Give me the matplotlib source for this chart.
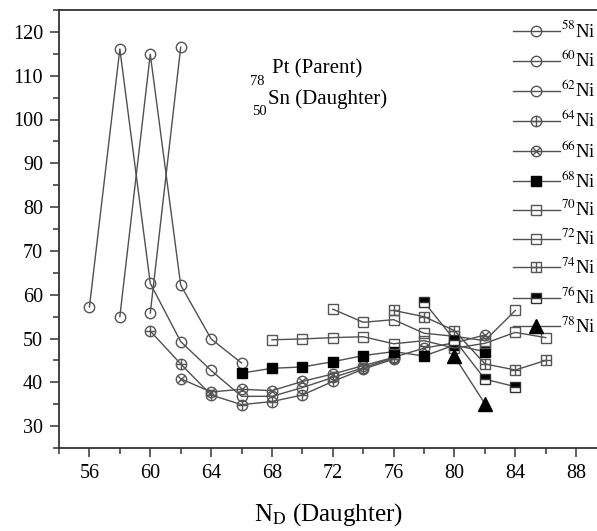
import matplotlib
matplotlib.use('Agg')
import matplotlib.pyplot as plt
from matplotlib.path import Path
from matplotlib.ticker import MultipleLocator

plt.rcParams['font.family'] = ['Liberation Serif', 'DejaVu Serif']
plt.rcParams['mathtext.fontset'] = 'stix'

# ---------------- data ----------------
ni58_x = [56, 58, 60, 62, 64, 66, 68, 70, 72, 74, 76]
ni58_y = [57.2, 116.1, 62.6, 49.3, 42.7, 36.8, 36.8, 38.8, 41.1, 43.3, 45.6]
ni60_x = [58, 60, 62, 64, 66]
ni60_y = [55.0, 114.9, 62.2, 49.9, 44.4]
ni62_x = [60, 62]
ni62_y = [55.8, 116.5]
ni64_x = [60, 62, 64, 66, 68, 70, 72, 74, 76]
ni64_y = [51.7, 44.2, 37.1, 34.9, 35.6, 37.1, 40.2, 43.0, 45.3]
ni66_x = [62, 64, 66, 68, 70, 72, 74, 76, 78, 80, 82]
ni66_y = [40.8, 37.8, 38.4, 38.1, 40.2, 41.9, 43.8, 45.7, 47.8, 49.0, 50.8]
ni68_x = [66, 68, 70, 72, 74, 76, 78, 80, 82]
ni68_y = [42.1, 43.2, 43.5, 44.7, 46.1, 47.0, 46.0, 48.5, 47.0]
ni70_x = [68, 70, 72, 74, 76, 78, 80, 82, 84, 86]
ni70_y = [49.7, 49.9, 50.2, 50.4, 48.8, 49.5, 47.8, 48.9, 51.4, 50.2]
ni72_x = [72, 74, 76, 78, 80, 82, 84]
ni72_y = [56.7, 53.7, 54.3, 51.2, 50.5, 49.5, 56.4]
ni74_x = [76, 78, 80, 82, 84, 86]
ni74_y = [56.4, 55.0, 51.8, 44.2, 42.8, 45.0]
ni76_x = [78, 80, 82, 84]
ni76_y = [58.3, 49.7, 40.7, 39.0]
ni78_x = [80, 82]
ni78_y = [45.9, 35.1]

labels = ['58', '60', '62', '64', '66', '68', '70', '72', '74', '76', '78']
x_ticks = [56, 60, 64, 68, 72, 76, 80, 84, 88]
y_ticks = [30, 40, 50, 60, 70, 80, 90, 100, 110, 120]

# ---------------- custom markers ----------------
M, L = Path.MOVETO, Path.LINETO
circ = Path.unit_circle()
plus = Path([[-1, 0], [1, 0], [0, -1], [0, 1]], [M, L, M, L])
d = 0.6
cross = Path([[-d, -d], [d, d], [-d, d], [d, -d]], [M, L, M, L])
square = Path([[-1, -1], [1, -1], [1, 1], [-1, 1], [-1, -1]], [M, L, L, L, Path.CLOSEPOLY])
oplus = Path.make_compound_path(circ, plus)
otimes = Path.make_compound_path(circ, cross)
boxplus = Path.make_compound_path(square, plus)

gray = '#555555'
lc = '#505050'

fig = plt.figure(figsize=(5.97, 5.31), dpi=100)
ax = fig.add_axes([59 / 597, 83 / 531, 540 / 597, 438 / 531])

common = dict(color=lc, lw=1.0)
open_kw = dict(mfc='none', mec=gray, mew=1.0)

series = [
    (ni58_x, ni58_y, dict(marker='o', ms=7.5, **open_kw)),
    (ni60_x, ni60_y, dict(marker='o', ms=7.5, **open_kw)),
    (ni62_x, ni62_y, dict(marker='o', ms=7.5, **open_kw)),
    (ni64_x, ni64_y, dict(marker=oplus, ms=7.5, **open_kw)),
    (ni66_x, ni66_y, dict(marker=otimes, ms=7.5, **open_kw)),
    (ni68_x, ni68_y, dict(marker='s', ms=7, mfc='black', mec='black', mew=1.0)),
    (ni70_x, ni70_y, dict(marker='s', ms=7, **open_kw)),
    (ni72_x, ni72_y, dict(marker='s', ms=7, **open_kw)),
    (ni74_x, ni74_y, dict(marker=boxplus, ms=7, **open_kw)),
    (ni76_x, ni76_y, dict(marker='s', ms=7, fillstyle='top', mfc='black',
                          mfcalt='white', mec='#333333', mew=1.0)),
    (ni78_x, ni78_y, dict(marker='^', ms=9.5, mfc='black', mec='black')),
]

for (xs, ys, kw), lab in zip(series, labels):
    ax.plot(xs, ys, label=r'$^{%s}$Ni' % lab, **common, **kw)

ax.set_xlim(54, 89.5)
ax.set_ylim(25, 125)
ax.set_xticks(x_ticks)
ax.set_yticks(y_ticks)
ax.xaxis.set_minor_locator(MultipleLocator(2))
ax.yaxis.set_minor_locator(MultipleLocator(5))
ax.tick_params(which='major', direction='out', length=6.5, width=1.1,
               labelsize=14.5, top=False, right=False, pad=5, color='#333333')
ax.tick_params(which='minor', direction='out', length=4, width=1.1,
               top=False, right=False, color='#333333')
for s in ax.spines.values():
    s.set_linewidth(1.3)
    s.set_color('#333333')

ax.set_xlabel(r'N$_{\mathrm{D}}$ (Daughter)', fontsize=18, labelpad=13)

leg = ax.legend(loc='upper left', bbox_to_anchor=(0.8407, 0.977),
                frameon=False, fontsize=13.5, handlelength=2.5,
                handletextpad=0.05, borderpad=0, borderaxespad=0,
                labelspacing=0.45)

# annotation
ax.text(0.394, 0.854, 'Pt (Parent)', transform=ax.transAxes, fontsize=15,
        va='baseline', ha='left')
ax.text(0.354, 0.828, '78', transform=ax.transAxes, fontsize=10.5,
        va='baseline', ha='left')
ax.text(0.387, 0.785, 'Sn (Daughter)', transform=ax.transAxes, fontsize=15,
        va='baseline', ha='left')
ax.text(0.357, 0.760, '50', transform=ax.transAxes, fontsize=10.5,
        va='baseline', ha='left')

fig.savefig('out.png', dpi=100)
